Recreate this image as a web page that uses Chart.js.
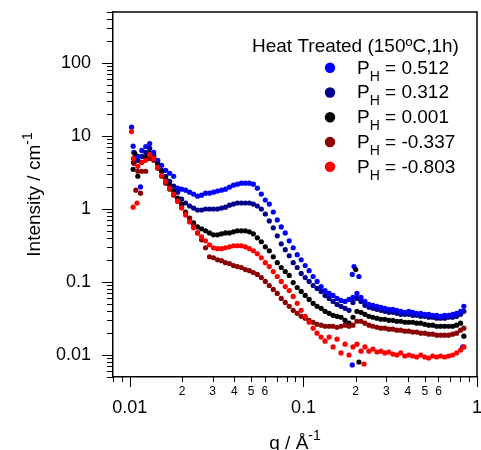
<!DOCTYPE html>
<html>
<head>
<meta charset="utf-8">
<script src="https://cdn.jsdelivr.net/npm/chart.js@4.4.0/dist/chart.umd.min.js"></script>
<style>
  html, body { margin: 0; padding: 0; background: #fff; }
  #chart { display: block; }
</style>
</head>
<body>
<canvas id="chart" width="481" height="450"></canvas>
<script>
// ======== Data ========
const q = [0.01054, 0.01112, 0.01172, 0.01235, 0.01302, 0.01373, 0.01448, 0.01526, 0.01609, 0.01697,
  0.01789, 0.01886, 0.01988, 0.02096, 0.02210, 0.02330, 0.02456, 0.02590, 0.02730, 0.02878,
  0.03035, 0.03199, 0.03373, 0.03556, 0.03749, 0.03953, 0.04167, 0.04393, 0.04632, 0.04883,
  0.05148, 0.05428, 0.05722, 0.06033, 0.06360, 0.06706, 0.07070, 0.07453, 0.07858, 0.08285,
  0.08734, 0.09208, 0.09708, 0.1024, 0.1079, 0.1138, 0.1199, 0.1265, 0.1333, 0.1406,
  0.1482, 0.1562, 0.1647, 0.1737, 0.1831, 0.1930, 0.2035, 0.2146, 0.2262, 0.2385,
  0.2514, 0.2651, 0.2795, 0.2946, 0.3106, 0.3275, 0.3453, 0.3640, 0.3838, 0.4046,
  0.4266, 0.4497, 0.4741, 0.4999, 0.5270, 0.5556, 0.5858, 0.6176, 0.6511, 0.6864,
  0.7237, 0.7630, 0.8044, 0.840];

const ph = ['0.512', '0.312', '0.001', '-0.337', '-0.803'];
const colors = ['#0000ff', '#00008b', '#000000', '#8b0000', '#ff0000'];

const iBlue = [5.96, 5.26, 6.35, 7.19, 7.90, 5.96, 4.64, 3.97, 3.39, 3.09,
  2.81, 1.93, 1.87, 1.81, 1.70, 1.60, 1.50, 1.55, 1.65, 1.65,
  1.70, 1.76, 1.81, 1.87, 1.99, 2.12, 2.19, 2.26, 2.26, 2.26,
  2.19, 1.93, 1.60, 1.33, 1.17, 0.910, 0.709, 0.569, 0.471, 0.367,
  0.295, 0.237, 0.202, 0.168, 0.143, 0.119, 0.102, 0.0869, 0.0766, 0.0698,
  0.0655, 0.0596, 0.0560, 0.0543, 0.0578, 0.0615, 0.0698, 0.0615, 0.0543, 0.0494,
  0.0479, 0.0464, 0.0450, 0.0436, 0.0423, 0.0423, 0.0410, 0.0397, 0.0385, 0.0397,
  0.0385, 0.0373, 0.0373, 0.0361, 0.0361, 0.0350, 0.0350, 0.0339, 0.0350, 0.0350,
  0.0361, 0.0373, 0.0397, 0.0464];

const iNavy = [4.94, 4.64, 5.26, 5.96, 6.76, 5.43, 4.23, 3.39, 2.81, 2.40,
  2.06, 1.70, 1.37, 1.21, 1.10, 1.03, 0.969, 0.969, 1.00, 1.00,
  1.00, 1.00, 1.03, 1.06, 1.13, 1.17, 1.21, 1.21, 1.21, 1.21,
  1.17, 1.10, 1.00, 0.855, 0.687, 0.552, 0.429, 0.334, 0.277, 0.229,
  0.184, 0.158, 0.131, 0.115, 0.102, 0.0896, 0.0816, 0.0743, 0.0655, 0.0596,
  0.0543, 0.0494, 0.0464, 0.0436, 0.0410, 0.0526, 0.0596, 0.0543, 0.0479, 0.0450,
  0.0436, 0.0423, 0.0410, 0.0397, 0.0385, 0.0385, 0.0373, 0.0361, 0.0361, 0.0361,
  0.0350, 0.0350, 0.0339, 0.0339, 0.0329, 0.0329, 0.0319, 0.0319, 0.0319, 0.0329,
  0.0329, 0.0339, 0.0361, 0.0397];

const iBlack = [4.36, 2.81, 4.36, 5.10, 5.78, 5.10, 4.09, 3.29, 2.64, 2.12,
  1.76, 1.41, 1.17, 0.910, 0.754, 0.645, 0.569, 0.535, 0.502, 0.471,
  0.443, 0.443, 0.457, 0.471, 0.471, 0.487, 0.502, 0.502, 0.502, 0.487,
  0.457, 0.403, 0.356, 0.304, 0.268, 0.222, 0.184, 0.158, 0.139, 0.123,
  0.0984, 0.0842, 0.0743, 0.0655, 0.0578, 0.0510, 0.0464, 0.0436, 0.0397, 0.0373,
  0.0350, 0.0339, 0.0329, 0.0299, 0.0273, 0.0329, 0.0397, 0.0385, 0.0361, 0.0339,
  0.0329, 0.0319, 0.0309, 0.0309, 0.0299, 0.0299, 0.0290, 0.0290, 0.0281, 0.0281,
  0.0281, 0.0273, 0.0273, 0.0264, 0.0256, 0.0256, 0.0248, 0.0248, 0.0248, 0.0248,
  0.0248, 0.0256, 0.0273, 0.0181];

const iDarkRed = [4.23, 3.29, 3.29, 3.29, 4.94, 4.64, 3.61, 2.81, 2.26, 1.87,
  1.55, 1.28, 1.06, 0.882, 0.731, 0.587, 0.471, 0.379, 0.295, 0.222,
  0.215, 0.202, 0.196, 0.184, 0.179, 0.168, 0.163, 0.158, 0.148, 0.143,
  0.135, 0.127, 0.115, 0.102, 0.0896, 0.0791, 0.0698, 0.0596, 0.0526, 0.0464,
  0.0410, 0.0373, 0.0339, 0.0319, 0.0299, 0.0281, 0.0264, 0.0256, 0.0248, 0.0248,
  0.0248, 0.0240, 0.0248, 0.0256, 0.0248, 0.0256, 0.0290, 0.0290, 0.0273, 0.0256,
  0.0248, 0.0240, 0.0233, 0.0233, 0.0226, 0.0226, 0.0219, 0.0219, 0.0212, 0.0212,
  0.0206, 0.0206, 0.0199, 0.0199, 0.0193, 0.0193, 0.0187, 0.0187, 0.0187, 0.0187,
  0.0193, 0.0199, 0.0219, 0.0233];

const iRed = [4.94, 3.85, 4.36, 4.64, 5.60, 4.94, 3.73, 2.90, 2.40, 1.93,
  1.60, 1.28, 1.03, 0.829, 0.666, 0.552, 0.471, 0.416, 0.367, 0.324,
  0.295, 0.286, 0.286, 0.295, 0.304, 0.314, 0.314, 0.314, 0.304, 0.286,
  0.268, 0.244, 0.215, 0.184, 0.163, 0.139, 0.119, 0.102, 0.0869, 0.0766,
  0.0635, 0.0510, 0.0410, 0.0339, 0.0281, 0.0233, 0.0199, 0.0176, 0.0155, 0.0176,
  0.0129, 0.0165, 0.0107, 0.0141, 0.0100, 0.0129, 0.0141, 0.0113, 0.0129, 0.0113,
  0.0121, 0.0110, 0.0113, 0.0107, 0.0110, 0.0103, 0.0100, 0.0107, 0.00969, 0.0100,
  0.00969, 0.00939, 0.0100, 0.00939, 0.00910, 0.00969, 0.00939, 0.00969, 0.00939, 0.00969,
  0.0100, 0.0107, 0.0117, 0.0129];

// stray points (first points and the detector-overlap region)
const blueExtraQ = [0.01023, 0.01045, 0.01152, 0.1913, 0.1957, 0.2088, 0.1913, 0.827];
const blueExtraI = [13.2, 7.25, 2.01, 0.127, 0.163, 0.119, 0.00731, 0.0129];
const navyExtraQ = [];
const navyExtraI = [];
const blackExtraQ = [0.01068, 0.01045, 0.2002, 0.2088];
const blackExtraI = [5.78, 3.50, 0.148, 0.00803];
const darkRedExtraQ = [0.01083, 0.01152];
const darkRedExtraI = [1.81, 1.65];
const redExtraQ = [0.01023, 0.01045, 0.0110, 0.2234];
const redExtraI = [11.5, 1.06, 1.21, 0.00754];

const xMin = 0.008, xMax = 1;
const yMin = 0.005, yMax = 500;

// ======== Helpers ========
const FONT = "'Liberation Sans', Arial, sans-serif";

function mantissa(v) {
  const e = Math.floor(Math.log10(v) + 1e-9);
  const m = v / Math.pow(10, e);
  return Math.abs(m - Math.round(m)) < 1e-6 ? Math.round(m) : 0;
}

function decadeLabel(v) {
  const e = Math.round(Math.log10(v));
  return e >= 0 ? String(Math.pow(10, e)) : Math.pow(10, e).toFixed(-e);
}

function points(qs, is, exq, exi) {
  return qs.map((v, i) => ({ x: v, y: is[i] }))
    .concat(exq.map((v, i) => ({ x: v, y: exi[i] })));
}

const series = [
  points(q, iBlue, blueExtraQ, blueExtraI),
  points(q, iNavy, navyExtraQ, navyExtraI),
  points(q, iBlack, blackExtraQ, blackExtraI),
  points(q, iDarkRed, darkRedExtraQ, darkRedExtraI),
  points(q, iRed, redExtraQ, redExtraI)
];
const drawOrder = [3, 4, 2, 1, 0];

// ======== Frame, ticks, titles, legend ========
const decor = {
  id: 'decor',
  afterDraw(chart) {
    const { ctx, chartArea: a, scales: { x, y } } = chart;
    ctx.save();
    ctx.strokeStyle = '#000';
    ctx.lineWidth = 1.5;
    ctx.beginPath();
    ctx.moveTo(a.left, a.top);
    ctx.lineTo(a.right, a.top);
    ctx.lineTo(a.right, a.bottom);
    ctx.stroke();

    ctx.lineWidth = 1;
    ctx.beginPath();
    x.ticks.forEach(t => {
      const m = mantissa(t.value);
      if (!m) return;
      const px = Math.round(x.getPixelForValue(t.value)) + 0.5;
      ctx.moveTo(px, a.bottom);
      ctx.lineTo(px, a.bottom + (m === 1 ? 10 : 5));
    });
    y.ticks.forEach(t => {
      const m = mantissa(t.value);
      if (!m) return;
      const py = Math.round(y.getPixelForValue(t.value)) + 0.5;
      ctx.moveTo(a.left, py);
      ctx.lineTo(a.left - (m === 1 ? 11 : 6), py);
    });
    ctx.stroke();

    ctx.fillStyle = '#000';
    ctx.textBaseline = 'alphabetic';
    ctx.textAlign = 'left';

    // x title: q / Å^-1
    ctx.font = '19px ' + FONT;
    let w1 = ctx.measureText('q / Å').width;
    ctx.font = '14px ' + FONT;
    let w2 = ctx.measureText('-1').width;
    let sx = (a.left + a.right) / 2 - (w1 + w2) / 2;
    ctx.font = '19px ' + FONT;
    ctx.fillText('q / Å', sx, 449);
    ctx.font = '14px ' + FONT;
    ctx.fillText('-1', sx + w1, 440);

    // y title: Intensity / cm^-1
    ctx.save();
    ctx.translate(40, (a.top + a.bottom) / 2);
    ctx.rotate(-Math.PI / 2);
    ctx.font = '19px ' + FONT;
    w1 = ctx.measureText('Intensity / cm').width;
    ctx.font = '14px ' + FONT;
    w2 = ctx.measureText('-1').width;
    sx = -(w1 + w2) / 2;
    ctx.font = '19px ' + FONT;
    ctx.fillText('Intensity / cm', sx, 0);
    ctx.font = '14px ' + FONT;
    ctx.fillText('-1', sx + w1, -8);
    ctx.restore();

    // legend
    ctx.font = '19px ' + FONT;
    ctx.fillText('Heat Treated (150ºC,1h)', 252, 52);
    ph.forEach((v, i) => {
      const cy = 67.7 + i * 24.75;
      ctx.fillStyle = colors[i];
      ctx.beginPath();
      ctx.arc(330, cy, 5.2, 0, Math.PI * 2);
      ctx.fill();
      ctx.fillStyle = '#000';
      ctx.font = '19px ' + FONT;
      ctx.fillText('P', 357, cy + 6);
      const wp = ctx.measureText('P').width;
      ctx.font = '14px ' + FONT;
      ctx.fillText('H', 357 + wp, cy + 13);
      const wh = ctx.measureText('H').width;
      ctx.font = '19px ' + FONT;
      ctx.fillText(' = ' + v, 357 + wp + wh, cy + 6);
    });
    ctx.restore();
  }
};

// ======== Chart ========
Chart.defaults.font.family = FONT;
Chart.defaults.color = '#000';

new Chart(document.getElementById('chart'), {
  type: 'scatter',
  data: {
    datasets: series.map((d, i) => ({
      label: 'PH = ' + ph[i],
      data: d,
      backgroundColor: colors[i],
      borderWidth: 0,
      pointRadius: 2.6,
      order: drawOrder[i]
    }))
  },
  options: {
    responsive: false,
    animation: false,
    devicePixelRatio: 1,
    events: [],
    layout: { padding: { left: 0, right: 3, top: 12, bottom: 0 } },
    plugins: { legend: { display: false }, tooltip: { enabled: false } },
    scales: {
      x: {
        type: 'logarithmic',
        min: xMin,
        max: xMax,
        grid: { display: false, drawTicks: false },
        border: { display: true, color: '#000', width: 1.5 },
        ticks: {
          autoSkip: false,
          maxRotation: 0,
          minRotation: 0,
          padding: 10,
          font: c => mantissa(c.tick.value) === 1
            ? { size: 18, lineHeight: 42 / 18 }
            : { size: 12, lineHeight: 10 / 12 },
          callback: v => {
            const m = mantissa(v);
            if (m === 1) return decadeLabel(v);
            if (m >= 2 && m <= 6) return String(m);
            return '';
          }
        },
        afterFit: s => { s.height = 73; s.paddingLeft = 0; s.paddingRight = 0; }
      },
      y: {
        type: 'logarithmic',
        min: yMin,
        max: yMax,
        grid: { display: false, drawTicks: false },
        border: { display: true, color: '#000', width: 1.5 },
        ticks: {
          autoSkip: false,
          padding: 22,
          font: { size: 18 },
          callback: v => mantissa(v) === 1 ? decadeLabel(v) : ''
        },
        afterFit: s => { s.width = 113; s.paddingTop = 0; s.paddingBottom = 0; }
      }
    }
  },
  plugins: [decor]
});
</script>
</body>
</html>
